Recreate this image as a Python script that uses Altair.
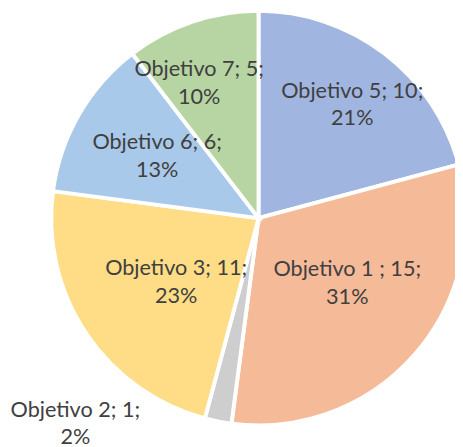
import math
import altair as alt
import pandas as pd

names = ["Objetivo 5", "Objetivo 1 ", "Objetivo 2", "Objetivo 3", "Objetivo 6", "Objetivo 7"]
values = [10, 15, 1, 11, 6, 5]
pcts = [21, 31, 2, 23, 13, 10]
colors = ["#a0b6e1", "#f5ba98", "#cecece", "#fedd86", "#a9c9ea", "#b6d5a2"]

# label placement (radius in px, angular offset in degrees from slice middle)
placement = {
    "Objetivo 5": (150, 2),
    "Objetivo 1 ": (112, -5),
    "Objetivo 2": (280, 30.5),
    "Objetivo 3": (106, -4),
    "Objetivo 6": (121, 1.5),
    "Objetivo 7": (150, -5),
}

total = sum(values)
df = pd.DataFrame({"name": names, "value": values, "pct": pcts, "idx": list(range(len(names)))})
df["label"] = [f"{n}; {v};\n{p}%" for n, v, p in zip(names, values, pcts)]

sc = alt.Scale(domain=[0, total], range=[0, 2 * math.pi])
cx, cy = 255, 210

base = alt.Chart(df).transform_window(
    cum="sum(value)", sort=[alt.SortField("idx")], frame=[None, 0]
).transform_calculate(
    start="datum.cum - datum.value", mid="datum.cum - datum.value / 2"
)

arcs = base.mark_arc(stroke="white", strokeWidth=4, radius=211).encode(
    theta=alt.Theta("start:Q", stack=None, scale=sc),
    theta2="cum:Q",
    color=alt.Color("name:N", scale=alt.Scale(domain=names, range=colors), legend=None),
    x=alt.value(cx),
    y=alt.value(cy),
)

def label(name):
    radius, offset = placement[name]
    return base.transform_filter(
        alt.FieldEqualPredicate(field="name", equal=name)
    ).mark_text(
        radius=radius, thetaOffset=math.radians(offset), lineBreak="\n", lineHeight=28,
        fontSize=22, font="Lato", color="#404040", align="center", baseline="middle", dy=-14,
    ).encode(
        theta=alt.Theta("mid:Q", stack=None, scale=sc),
        text="label:N",
        x=alt.value(cx),
        y=alt.value(cy),
    )

chart = alt.layer(arcs, *[label(n) for n in names]).properties(
    width=455, height=439, padding=0,
    autosize=alt.AutoSizeParams(type="none"),
).configure_view(stroke=None)

chart.save("out.html", embed_options={"renderer": "svg", "actions": False})
